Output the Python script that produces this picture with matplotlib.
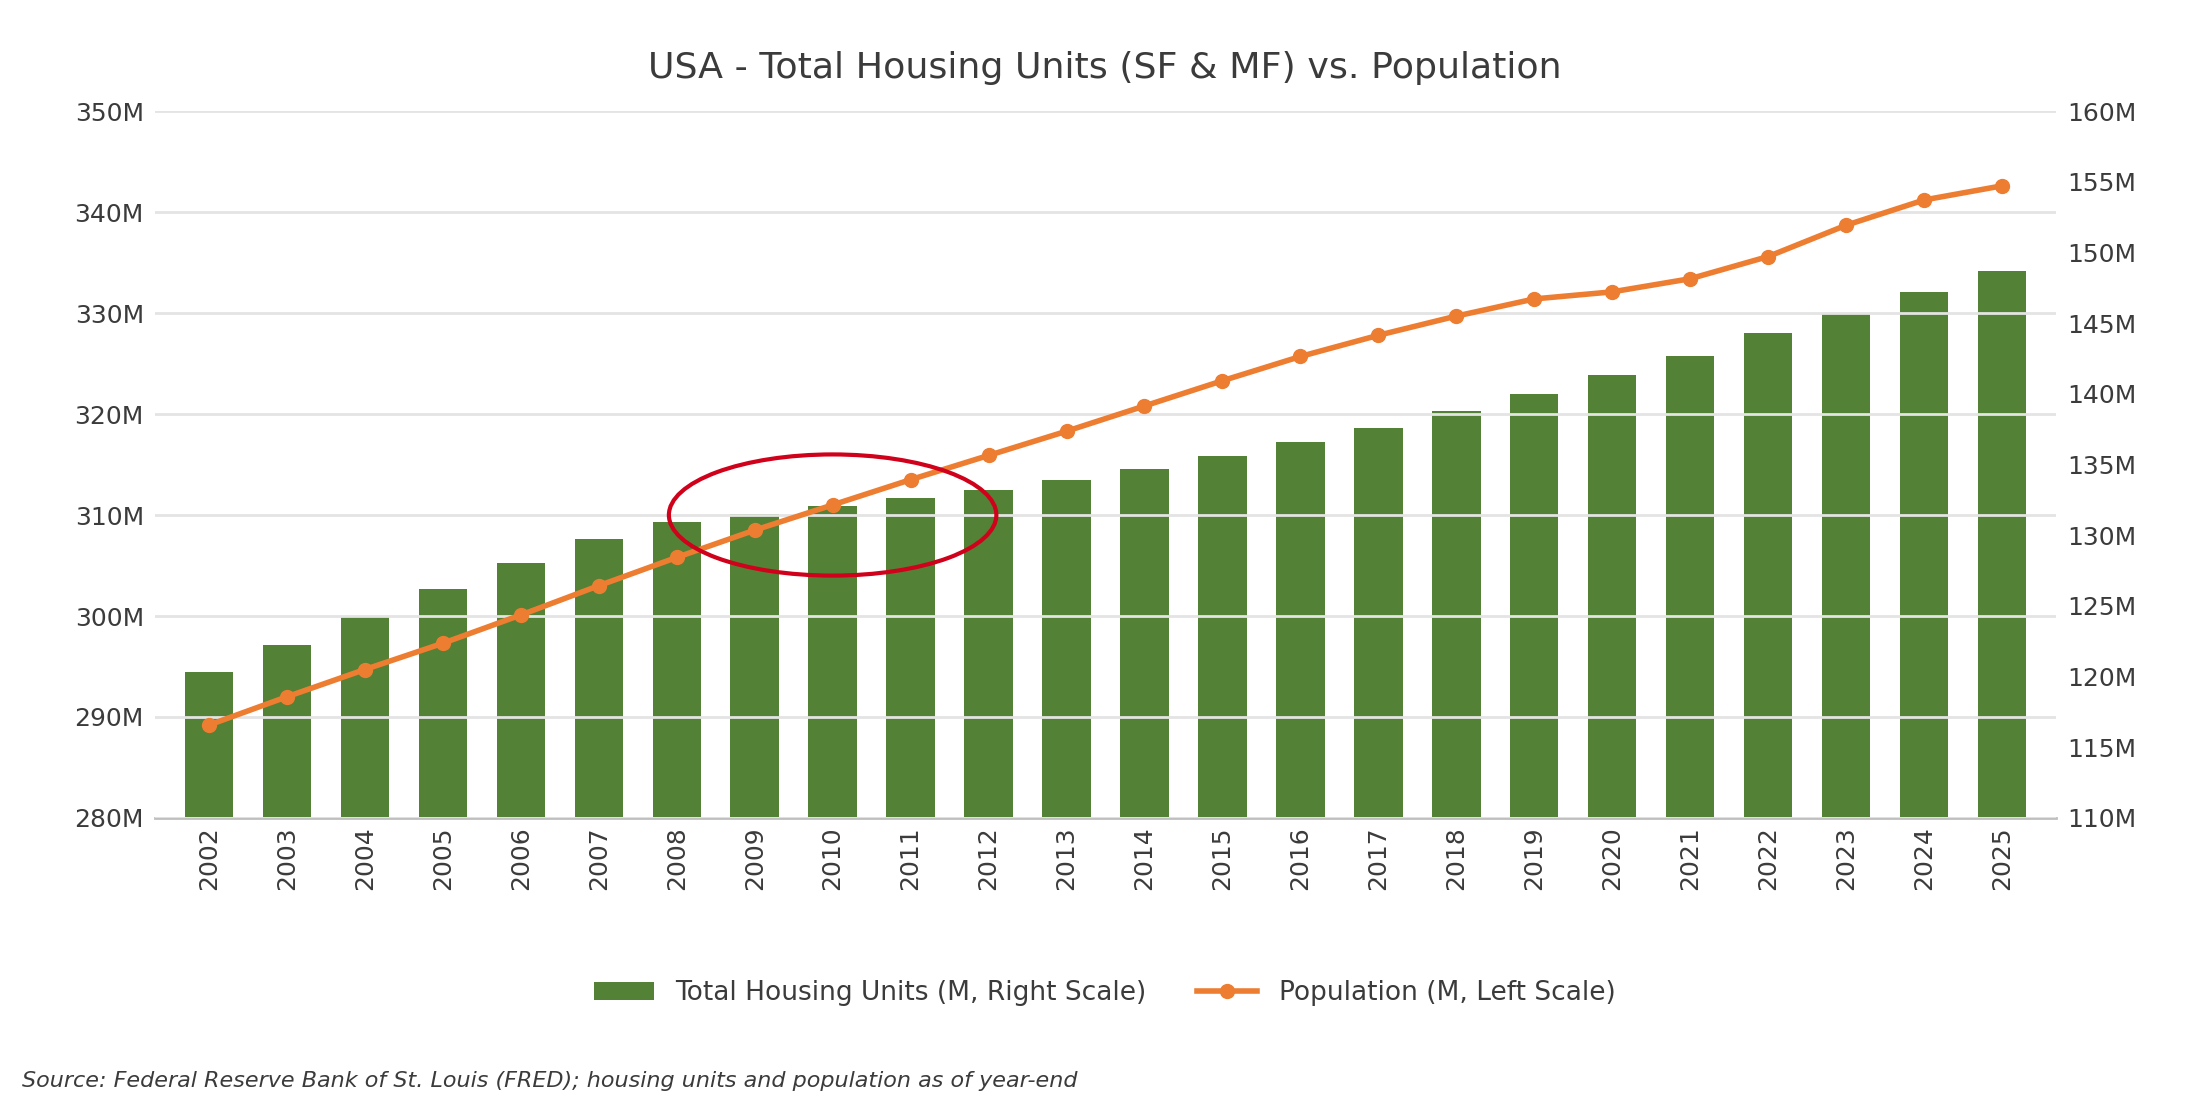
import numpy as np
import matplotlib.pyplot as plt
from matplotlib.patches import Ellipse
from matplotlib.ticker import FuncFormatter

# data (millions)
years = [str(y) for y in range(2002, 2026)]
housing_units = [120.3, 122.2, 124.2, 126.2, 128.0, 129.7, 130.9, 131.5, 132.1, 132.6,
                 133.2, 133.9, 134.7, 135.6, 136.6, 137.6, 138.8, 140.0, 141.3, 142.7,
                 144.3, 145.7, 147.2, 148.7]
population = [289.2, 292.0, 294.7, 297.3, 300.1, 303.0, 305.8, 308.5, 311.0, 313.5,
              315.9, 318.3, 320.8, 323.3, 325.7, 327.8, 329.7, 331.4, 332.1, 333.4,
              335.6, 338.7, 341.2, 342.6]
left_ticks = [280, 290, 300, 310, 320, 330, 340, 350]
right_ticks = [110, 115, 120, 125, 130, 135, 140, 145, 150, 155, 160]

text_col = '#3b3b3b'
bar_col = '#538135'
line_col = '#ED7D31'

fig = plt.figure(figsize=(22, 11), dpi=100)
ax_bar = fig.add_axes([0.0705, 0.2564, 0.864, 0.6426])
ax_line = ax_bar.twinx()

x = np.arange(len(years))

# bars -> right scale
ax_bar.bar(x, housing_units, width=0.62, color=bar_col, label='Total Housing Units (M, Right Scale)', zorder=2)
ax_bar.set_ylim(110, 160)
ax_bar.set_yticks(right_ticks)
ax_bar.yaxis.tick_right()
ax_bar.yaxis.set_major_formatter(FuncFormatter(lambda v, p: f'{int(v)}M'))

# line -> left scale
ax_line.plot(x, population, color=line_col, linewidth=4, marker='o', markersize=10,
             label='Population (M, Left Scale)', zorder=3)
ax_line.set_ylim(280, 350)
ax_line.set_yticks(left_ticks)
ax_line.yaxis.tick_left()
ax_line.yaxis.set_major_formatter(FuncFormatter(lambda v, p: f'{int(v)}M'))
ax_line.grid(axis='y', color='#e4e4e4', linewidth=2, zorder=1)
ax_line.set_axisbelow(True)

# highlight around 2010
ax_line.add_patch(Ellipse((8, 310), width=4.2, height=12, fill=False,
                          edgecolor='#D0021B', linewidth=3, zorder=4))

ax_bar.set_xlim(-0.69, len(years) - 1 + 0.69)
ax_bar.set_xticks(x)
ax_bar.set_xticklabels(years, rotation=90)

for a in (ax_bar, ax_line):
    for s in a.spines.values():
        s.set_visible(False)
    a.tick_params(axis='both', length=0, labelsize=18, labelcolor=text_col, pad=8)
ax_bar.spines['bottom'].set_visible(True)
ax_bar.spines['bottom'].set_color('#bfbfbf')
ax_bar.spines['bottom'].set_linewidth(2)
ax_bar.tick_params(axis='x', pad=6)

fig.suptitle('USA - Total Housing Units (SF & MF) vs. Population', x=0.502, y=0.954,
             fontsize=26.2, color=text_col)

h1, l1 = ax_bar.get_legend_handles_labels()
h2, l2 = ax_line.get_legend_handles_labels()
fig.legend(h1 + h2, l1 + l2, loc='center', bbox_to_anchor=(0.502, 0.097), ncol=2,
           frameon=False, fontsize=19, labelcolor=text_col, handlelength=2.3,
           columnspacing=1.9)

fig.text(0.01, 0.017, 'Source: Federal Reserve Bank of St. Louis (FRED); housing units and population as of year-end',
         fontsize=16, style='italic', color=text_col, va='center', ha='left')

fig.savefig('out.png', dpi=100)
